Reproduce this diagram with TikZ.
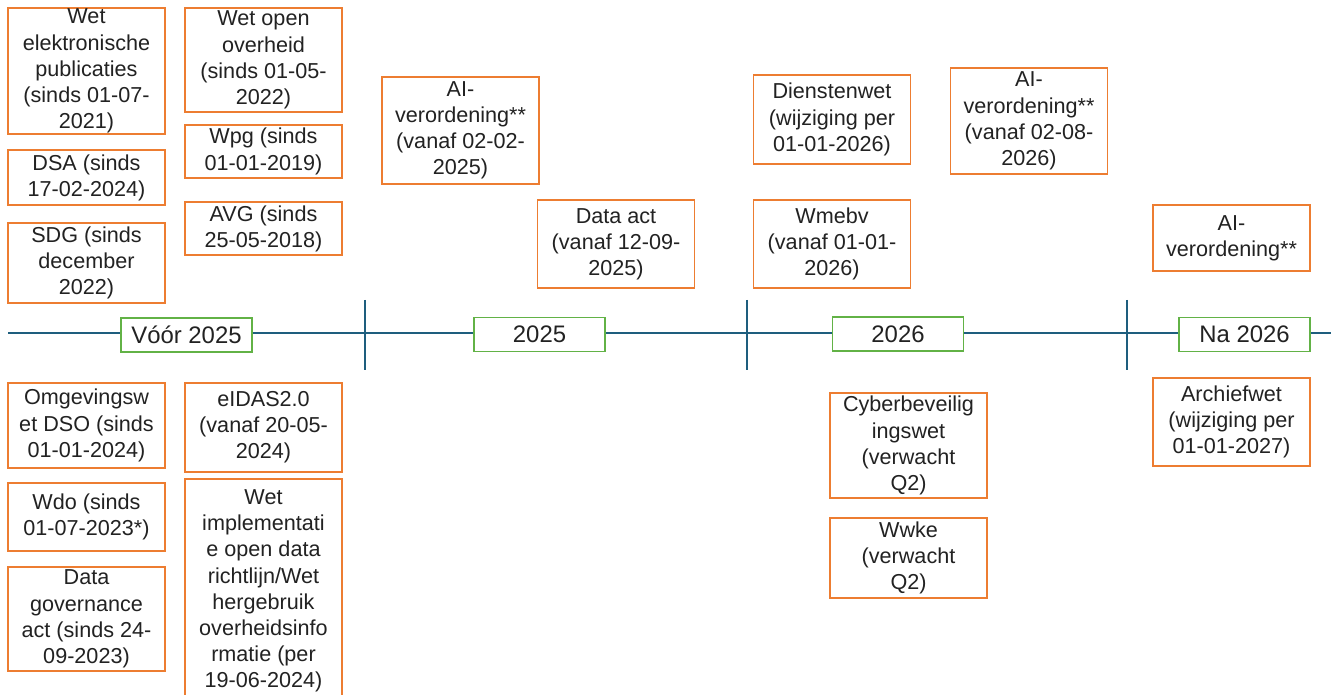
\documentclass[tikz,border=0pt]{standalone}
\usepackage{fontspec}
\setmainfont{Liberation Sans}
\definecolor{wetoranje}{HTML}{ED7D31}
\definecolor{jaargroen}{HTML}{62B246}
\definecolor{lijnblauw}{HTML}{1E5E7E}
\definecolor{tekstgrijs}{HTML}{222222}
\tikzset{
	wet/.style={rectangle, draw=wetoranje, line width=1.1pt, fill=white, inner sep=0pt, minimum width=3.14cm, align=center, text=tekstgrijs, font=\fontsize{12.3}{14.9}\selectfont},
	jaar/.style={rectangle, draw=jaargroen, line width=1.1pt, fill=white, inner sep=0pt, minimum width=2.62cm, minimum height=0.68cm, text=tekstgrijs, font=\fontsize{13.6}{16}\selectfont},
	tijdlijn/.style={draw=lijnblauw, line width=0.9pt}
}
\begin{document}
\begin{tikzpicture}[x=0.02cm, y=-0.02cm]

	\useasboundingbox	(0,0)	rectangle	(1331,695);

	\coordinate	(begin)	at	(8,333);
	\coordinate	(eind)	at	(1331,333);
	\coordinate	(s1b)	at	(365,300);
	\coordinate	(s1o)	at	(365,370);
	\coordinate	(s2b)	at	(747,300);
	\coordinate	(s2o)	at	(747,370);
	\coordinate	(s3b)	at	(1127,300);
	\coordinate	(s3o)	at	(1127,370);

	\draw[tijdlijn]	(begin)	--	(eind);
	\draw[tijdlijn]	(s1b)	--	(s1o);
	\draw[tijdlijn]	(s2b)	--	(s2o);
	\draw[tijdlijn]	(s3b)	--	(s3o);

	\node 	(j0)		at	(186.5,335) 	[jaar]{V\'o\'or 2025};
	\node 	(j1)		at	(539.5,334.5) 	[jaar]{2025};
	\node 	(j2)		at	(898,334) 	[jaar]{2026};
	\node 	(j3)		at	(1244.5,334.5) 	[jaar]{Na 2026};


	\node 	(a1)		at	(86.5,71) 	[wet, minimum height=2.52cm]{Wet\\elektronische\\publicaties\\(sinds 01-07-\\2021)};
	\node 	(a2)		at	(86.5,177.5) 	[wet, minimum height=1.1cm]{DSA (sinds\\17-02-2024)};
	\node 	(a3)		at	(86.5,263) 	[wet, minimum height=1.6cm]{SDG (sinds\\december\\2022)};

	\node 	(b1)		at	(263.5,60) 	[wet, minimum height=2.08cm]{Wet open\\overheid\\(sinds 01-05-\\2022)};
	\node 	(b2)		at	(263.5,151.5) 	[wet, minimum height=1.06cm]{Wpg (sinds\\01-01-2019)};
	\node 	(b3)		at	(263.5,228.5) 	[wet, minimum height=1.06cm]{AVG (sinds\\25-05-2018)};


	\node 	(c1)		at	(460.5,130.5) 	[wet, minimum height=2.14cm]{AI-\\verordening**\\(vanaf 02-02-\\2025)};
	\node 	(c2)		at	(616,244) 	[wet, minimum height=1.76cm]{Data act\\(vanaf 12-09-\\2025)};


	\node 	(d1)		at	(832,119.5) 	[wet, minimum height=1.78cm]{Dienstenwet\\(wijziging per\\01-01-2026)};
	\node 	(d2)		at	(1029,121) 	[wet, minimum height=2.12cm]{AI-\\verordening**\\(vanaf 02-08-\\2026)};
	\node 	(d3)		at	(832,244) 	[wet, minimum height=1.76cm]{Wmebv\\(vanaf 01-01-\\2026)};


	\node 	(e1)		at	(1231.5,238) 	[wet, minimum height=1.32cm]{AI-\\verordening**};
	\node 	(e2)		at	(1231.5,422) 	[wet, minimum height=1.76cm]{Archiefwet\\(wijziging per\\01-01-2027)};


	\node 	(f1)		at	(86.5,425.5) 	[wet, minimum height=1.7cm]{Omgevingsw\\et DSO (sinds\\01-01-2024)};
	\node 	(f2)		at	(86.5,517) 	[wet, minimum height=1.36cm]{Wdo (sinds\\01-07-2023*)};
	\node 	(f3)		at	(86.5,619) 	[wet, minimum height=2.08cm]{Data\\governance\\act (sinds 24-\\09-2023)};

	\node 	(g1)		at	(263.5,427.5) 	[wet, minimum height=1.78cm]{eIDAS2.0\\(vanaf 20-05-\\2024)};
	\node 	(g2)		at	(263.5,478) 	[wet, anchor=north, minimum height=4.48cm]{Wet\\implementati\\e open data\\richtlijn/Wet\\hergebruik\\overheidsinfo\\rmatie (per\\19-06-2024)};


	\node 	(h1)		at	(908.5,445.5) 	[wet, minimum height=2.1cm]{Cyberbeveilig\\ingswet\\(verwacht\\Q2)};
	\node 	(h2)		at	(908.5,558) 	[wet, minimum height=1.6cm]{Wwke\\(verwacht\\Q2)};


\end{tikzpicture}
\end{document}
